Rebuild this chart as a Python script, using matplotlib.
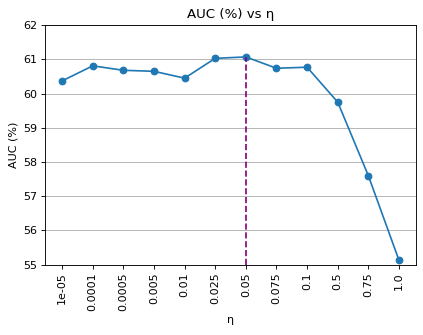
import matplotlib
matplotlib.use("Agg")
import matplotlib.pyplot as plt

etas = ["1e-05", "0.0001", "0.0005", "0.005", "0.01", "0.025",
        "0.05", "0.075", "0.1", "0.5", "0.75", "1.0"]
auc = [60.37, 60.81, 60.68, 60.65, 60.45, 61.03,
       61.07, 60.74, 60.77, 59.75, 57.60, 55.13]
best = "0.05"


def main():
    # drawn at dpi 80 so that the text comes out a bit smaller
    fig, ax = plt.subplots(figsize=(423 / 80, 335 / 80), dpi=80)
    x = list(range(len(etas)))
    ax.plot(x, auc, marker="o", color="#1f77b4")
    bi = etas.index(best)
    ax.vlines(bi, 55, auc[bi], colors="purple", linestyles="--")
    ax.set_ylim(55, 62)
    ax.set_xticks(x)
    ax.set_xticklabels(etas, rotation=90)
    ax.grid(axis="y", color="#b0b0b0")
    ax.set_axisbelow(True)
    ax.set_title("AUC (%) vs η")
    ax.set_xlabel("η")
    ax.set_ylabel("AUC (%)")
    fig.subplots_adjust(left=0.107, right=0.983, top=0.925, bottom=0.21)
    fig.savefig("out.png", dpi=80)


if __name__ == "__main__":
    main()
